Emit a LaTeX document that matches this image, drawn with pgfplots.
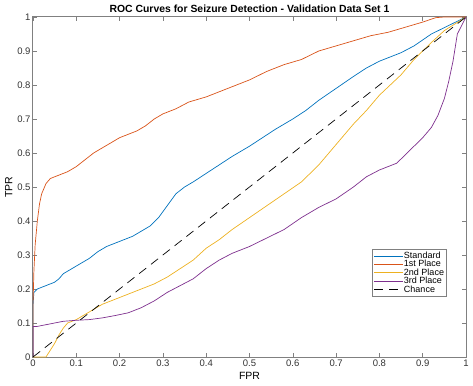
\documentclass[border=0pt]{standalone}
\usepackage{pgfplots}
\pgfplotsset{compat=1.18}
\usepackage{fontspec}
\setmainfont{Liberation Sans}
\definecolor{mblue}{rgb}{0,0.447,0.741}
\definecolor{morange}{rgb}{0.85,0.325,0.098}
\definecolor{myellow}{rgb}{0.929,0.694,0.125}
\definecolor{mpurple}{rgb}{0.494,0.184,0.556}
\definecolor{axgray}{gray}{0.5}
\begin{document}
\begin{tikzpicture}
\begin{axis}[
  scale only axis, width=433pt, height=340pt,
  xmin=0, xmax=1, ymin=0, ymax=1,
  xtick={0,0.1,...,1}, ytick={0,0.1,...,1},
  xticklabels={0,0.1,0.2,0.3,0.4,0.5,0.6,0.7,0.8,0.9,1},
  yticklabels={0,0.1,0.2,0.3,0.4,0.5,0.6,0.7,0.8,0.9,1},
  /pgf/number format/assume math mode=true,
  tick align=inside, major tick length=4pt,
  tick style={axgray, line width=0.6pt},
  axis line style={axgray, line width=1pt},
  ticklabel style={font=\fontsize{9.5}{11}\selectfont, text=black!80},
  xticklabel style={yshift=1pt},
  yticklabel style={xshift=1pt},
  title={\bfseries ROC Curves for Seizure Detection - Validation Data Set 1},
  title style={font=\fontsize{10.4}{12}\selectfont, yshift=-5pt},
  xlabel={FPR}, ylabel={TPR},
  label style={font=\fontsize{10.5}{12}\selectfont},
  xlabel style={yshift=1pt},
  ylabel style={yshift=-2pt},
  legend style={at={(0.955,0.179)}, anchor=south east, draw=axgray, line width=0.6pt,
    font=\fontsize{9}{8.5}\selectfont, inner sep=1.2pt, row sep=-1.6pt,
    nodes={inner sep=1pt}},
  legend cell align=left,
  legend image code/.code={\draw[line width=0.8pt, #1] (0cm,0cm) -- (1.0cm,0cm);},
]
\addplot[draw=mblue, line width=0.7pt] coordinates {
(0,0) (0,0.15) (0.002,0.19) (0.01,0.20) (0.03,0.21) (0.05,0.22) (0.06,0.23) (0.07,0.245)
(0.09,0.26) (0.11,0.275) (0.13,0.29) (0.15,0.31) (0.17,0.325) (0.19,0.335) (0.21,0.345)
(0.23,0.355) (0.25,0.37) (0.27,0.385) (0.29,0.41) (0.31,0.445) (0.33,0.48) (0.35,0.50)
(0.37,0.515) (0.40,0.54) (0.43,0.565) (0.46,0.59) (0.50,0.62) (0.53,0.645) (0.56,0.67)
(0.60,0.70) (0.63,0.725) (0.66,0.755) (0.70,0.79) (0.74,0.825) (0.77,0.85) (0.80,0.87)
(0.85,0.895) (0.88,0.915) (0.92,0.95) (0.96,0.975) (1,1)};
\addlegendentry{Standard}
\addplot[draw=morange, line width=0.7pt] coordinates {
(0,0) (0,0.15) (0.002,0.25) (0.005,0.33) (0.01,0.40) (0.015,0.45) (0.02,0.48) (0.03,0.51)
(0.04,0.525) (0.06,0.535) (0.08,0.545) (0.10,0.56) (0.12,0.58) (0.14,0.60) (0.16,0.615)
(0.18,0.63) (0.20,0.645) (0.22,0.655) (0.24,0.665) (0.26,0.68) (0.28,0.70) (0.30,0.715)
(0.33,0.73) (0.36,0.75) (0.40,0.765) (0.43,0.78) (0.46,0.795) (0.50,0.815) (0.54,0.84)
(0.58,0.86) (0.62,0.875) (0.66,0.90) (0.70,0.915) (0.74,0.93) (0.78,0.945) (0.82,0.955)
(0.86,0.97) (0.90,0.985) (0.93,0.998) (0.95,1) (1,1)};
\addlegendentry{1st Place}
\addplot[draw=myellow, line width=0.7pt] coordinates {
(0,0) (0.03,0) (0.04,0.02) (0.05,0.04) (0.06,0.065) (0.07,0.085) (0.08,0.10) (0.10,0.11)
(0.12,0.125) (0.14,0.14) (0.16,0.155) (0.18,0.165) (0.20,0.175) (0.22,0.185) (0.25,0.20)
(0.28,0.215) (0.31,0.235) (0.34,0.26) (0.37,0.285) (0.40,0.32) (0.43,0.345) (0.46,0.375)
(0.50,0.41) (0.54,0.445) (0.58,0.48) (0.62,0.515) (0.66,0.565) (0.70,0.625) (0.74,0.685)
(0.77,0.725) (0.80,0.77) (0.85,0.83) (0.88,0.875) (0.92,0.925) (0.95,0.96) (1,1)};
\addlegendentry{2nd Place}
\addplot[draw=mpurple, line width=0.7pt] coordinates {
(0,0) (0,0.09) (0.01,0.09) (0.03,0.095) (0.05,0.10) (0.07,0.105) (0.10,0.108) (0.13,0.11)
(0.16,0.115) (0.19,0.122) (0.22,0.13) (0.25,0.145) (0.28,0.165) (0.31,0.19) (0.34,0.21)
(0.37,0.23) (0.40,0.26) (0.43,0.285) (0.46,0.305) (0.50,0.325) (0.54,0.35) (0.58,0.375)
(0.62,0.41) (0.66,0.44) (0.70,0.465) (0.74,0.50) (0.77,0.53) (0.80,0.55) (0.84,0.57)
(0.86,0.595) (0.88,0.62) (0.90,0.645) (0.92,0.675) (0.935,0.71) (0.95,0.76) (0.96,0.81)
(0.97,0.87) (0.98,0.95) (1,1)};
\addlegendentry{3rd Place}
\addplot[draw=black, line width=0.7pt, dash pattern=on 9pt off 6pt] coordinates {(0,0) (1,1)};
\addlegendentry{Chance}
\end{axis}
\pgfresetboundingbox
\path ([xshift=-33pt,yshift=-28pt]current axis.south west) rectangle ([xshift=7pt,yshift=17pt]current axis.north east);
\end{tikzpicture}
\end{document}
